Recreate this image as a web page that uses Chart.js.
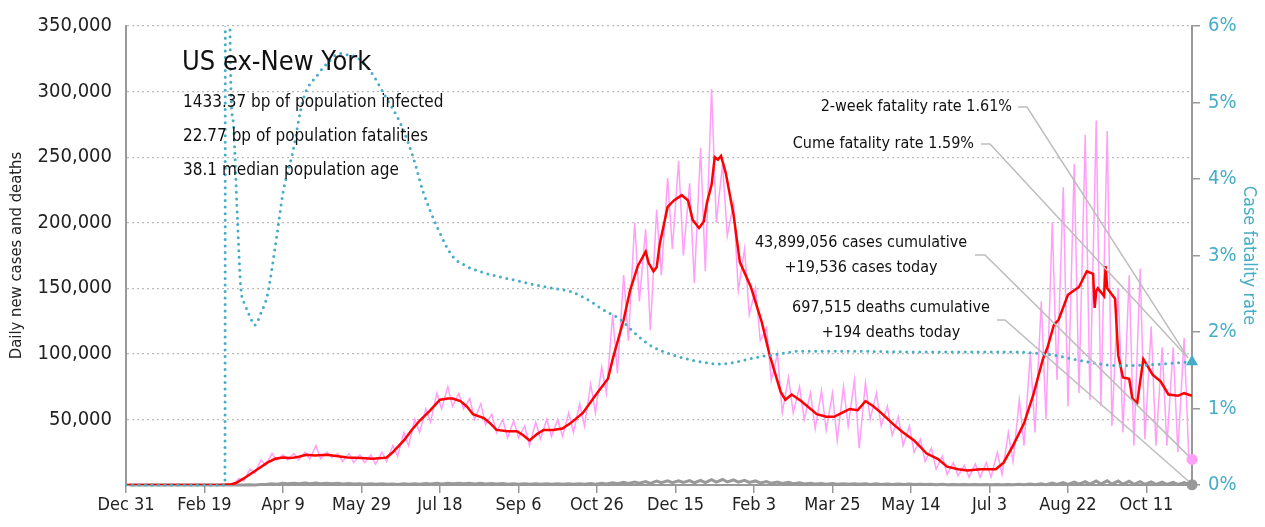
<!DOCTYPE html>
<html>
<head>
<meta charset="utf-8">
<script src="https://cdn.jsdelivr.net/npm/chart.js@4.4.1/dist/chart.umd.min.js"></script>
<style>
  html, body { margin: 0; padding: 0; background: #fff; }
  #wrap { width: 1265px; height: 527px; }
</style>
</head>
<body>
<div id="wrap"><canvas id="chart"></canvas></div>
<script>
// day 0 = Dec 31, 2019
const xTickDays = [0, 50, 100, 150, 200, 250, 300, 350, 400, 450, 500, 550, 600, 650];
const yTicks = [0, 50000, 100000, 150000, 200000, 250000, 300000, 350000];
const rateTicks = [0, 1, 2, 3, 4, 5, 6];

// 7-day average of new cases (thousands)
const redDays = [0, 60, 66, 70, 75, 80, 85, 90, 95, 100, 105, 110, 115, 120, 128, 135, 141, 150, 157, 163, 166, 170, 177, 182, 187, 193, 200, 205, 208, 213, 217, 221, 228, 232, 236, 243, 249, 253, 257, 262, 266, 272, 278, 283, 291, 300, 307, 310, 317, 321, 326, 331, 333, 336, 338, 340, 345, 349, 354, 358, 361, 365, 368, 370, 373, 375, 377, 379, 382, 387, 391, 398, 405, 410, 417, 420, 424, 430, 440, 446, 451, 456, 461, 466, 471, 476, 481, 489, 495, 502, 510, 517, 523, 530, 536, 544, 554, 559, 565, 572, 578, 584, 587, 591, 594, 600, 607, 612, 616, 617, 618, 619, 623, 624, 625, 630, 632, 635, 639, 641, 644, 648, 651, 654, 659, 664, 670, 674, 679];
const redCases = [0, 0, 0.3, 1.5, 5, 9, 13, 17, 20, 21, 20.5, 21.5, 23, 22.5, 23, 22, 21, 20.5, 20, 20.5, 21, 25, 34, 42, 49, 56, 65, 66, 66, 64, 60, 54, 51, 47, 42, 41, 41, 38, 34, 39, 42, 42, 43, 47, 55, 70, 81, 96, 126, 148, 167, 178, 169, 163, 166, 184, 212, 217, 221, 217, 202, 196, 201, 215, 229, 250, 248, 251, 238, 206, 170, 151, 124, 99, 71, 65, 69, 64, 54, 52, 52, 55, 58, 57, 64, 60, 55, 46, 40, 34, 24, 20, 14, 12, 11, 12, 12, 17, 30, 47, 69, 96, 105, 122, 126, 145, 151, 163, 161, 135, 148, 150, 144, 167, 150, 142, 99, 82, 81, 66, 62, 96, 90, 84, 79, 69, 68, 70, 68];

// daily new cases, weekly high and low (thousands), week w starts at day 7*w
const pinkHi = [0, 0, 0, 0, 0, 0, 0, 0, 0, 0.5, 5, 12, 19, 24, 23, 24, 25, 30, 25, 24, 24, 23, 23, 25, 30, 40, 50, 58, 70, 75, 70, 66, 62, 54, 50, 49, 45, 48, 50, 50, 55, 62, 77, 90, 130, 160, 200, 195, 210, 234, 247, 230, 257, 302, 245, 215, 180, 150, 120, 100, 82, 75, 70, 72, 70, 75, 80, 78, 70, 60, 52, 45, 35, 28, 22, 17, 15, 16, 17, 25, 40, 65, 100, 140, 200, 227, 245, 267, 278, 270, 150, 160, 165, 121, 105, 105, 112];
const pinkLo = [0, 0, 0, 0, 0, 0, 0, 0, 0, 0.2, 3, 9, 15, 19, 19, 19, 20, 20, 21, 18, 17, 17, 16, 18, 22, 30, 40, 48, 58, 60, 58, 50, 46, 40, 36, 36, 30, 35, 37, 37, 40, 45, 55, 70, 85, 110, 140, 118, 160, 180, 175, 154, 163, 200, 190, 148, 130, 110, 80, 55, 55, 50, 43, 42, 34, 45, 28, 50, 45, 38, 30, 25, 18, 12, 8, 7, 6, 6, 6, 8, 18, 30, 40, 50, 80, 60, 70, 65, 60, 45, 40, 30, 35, 30, 30, 25, 20];
const casesToday = 19.536;

// daily deaths, weekly high and low (thousands)
const deathHi = [0, 0, 0, 0, 0, 0, 0, 0, 0, 0, 0, 0.1, 0.4, 0.9, 1.3, 1.4, 1.5, 1.5, 1.4, 1.3, 1.2, 1.0, 1.0, 0.9, 0.8, 0.9, 1.0, 1.2, 1.3, 1.4, 1.4, 1.3, 1.3, 1.1, 1.1, 1.0, 0.9, 0.9, 0.9, 0.9, 0.9, 1.0, 1.1, 1.3, 1.6, 2.0, 2.3, 2.6, 3.0, 3.2, 3.2, 3.3, 3.5, 4.1, 4.2, 3.9, 3.6, 3.1, 2.6, 2.2, 2.0, 1.7, 1.4, 1.2, 1.1, 1.0, 1.0, 0.9, 0.9, 0.8, 0.8, 0.7, 0.6, 0.5, 0.5, 0.4, 0.4, 0.4, 0.3, 0.3, 0.4, 0.5, 0.7, 1.0, 1.4, 1.8, 2.2, 2.6, 3.0, 3.2, 3.0, 2.8, 2.6, 2.4, 2.2, 2.0, 1.9];
const deathLo = [0, 0, 0, 0, 0, 0, 0, 0, 0, 0, 0, 0.05, 0.3, 0.6, 0.9, 1.0, 1.0, 1.0, 0.9, 0.8, 0.7, 0.6, 0.5, 0.5, 0.4, 0.5, 0.6, 0.7, 0.8, 0.9, 0.9, 0.8, 0.8, 0.7, 0.6, 0.6, 0.5, 0.5, 0.5, 0.5, 0.5, 0.6, 0.6, 0.7, 0.9, 1.1, 1.3, 1.3, 1.7, 1.8, 1.9, 1.7, 1.8, 2.2, 2.3, 2.2, 2.0, 1.6, 1.3, 1.1, 1.0, 0.8, 0.7, 0.6, 0.5, 0.5, 0.5, 0.4, 0.4, 0.4, 0.3, 0.3, 0.3, 0.2, 0.2, 0.15, 0.15, 0.1, 0.1, 0.1, 0.1, 0.15, 0.2, 0.3, 0.4, 0.5, 0.6, 0.6, 0.7, 0.6, 0.6, 0.5, 0.5, 0.5, 0.5, 0.4, 0.4];
const deathsToday = 0.194;

// case fatality rate (%)
const cfrDays = [0, 63, 64, 65, 66, 68, 71, 73, 76, 79, 82, 86, 90, 96, 100, 106, 113, 122, 130, 136, 142, 147, 156, 166, 175, 183, 189, 198, 208, 216, 224, 249, 272, 283, 296, 304, 315, 326, 336, 347, 359, 379, 389, 402, 415, 430, 460, 500, 540, 560, 575, 590, 600, 615, 632, 650, 679];
const cfrRates = [0, 0, 40, 40, 6.5, 4.8, 3.47, 2.61, 2.35, 2.2, 2.09, 2.25, 2.48, 3.25, 3.82, 4.33, 5.05, 5.36, 5.55, 5.64, 5.62, 5.59, 5.4, 5.05, 4.72, 4.28, 3.85, 3.38, 2.99, 2.87, 2.80, 2.67, 2.57, 2.53, 2.40, 2.29, 2.16, 1.95, 1.80, 1.71, 1.64, 1.58, 1.61, 1.67, 1.71, 1.75, 1.75, 1.74, 1.74, 1.74, 1.73, 1.70, 1.66, 1.60, 1.56, 1.57, 1.61];

const lastDay = 679;
const FONT = "'Liberation Sans Narrow', 'DejaVu Sans Condensed', 'Arial Narrow', sans-serif";
const TEAL = '#47adc6';
const PINK = '#ff9ff8';
const GREY = '#999999';
const months = ['Jan', 'Feb', 'Mar', 'Apr', 'May', 'Jun', 'Jul', 'Aug', 'Sep', 'Oct', 'Nov', 'Dec'];

function weekly(hi, lo, today) {
  const pts = [];
  hi.forEach((h, w) => {
    pts.push({ x: 7 * w + 2, y: h * 1000 });
    pts.push({ x: 7 * w + 5, y: lo[w] * 1000 });
  });
  pts.push({ x: lastDay, y: today * 1000 });
  return pts;
}

const pinkData = weekly(pinkHi, pinkLo, casesToday);
const deathData = weekly(deathHi, deathLo, deathsToday);
const redData = redDays.map((d, i) => ({ x: d, y: redCases[i] * 1000 }));
const cfrData = cfrDays.map((d, i) => ({ x: d, y: cfrRates[i] }));

const lastOnly = (r) => (ctx) => ctx.dataIndex === ctx.dataset.data.length - 1 ? r : 0;

const notes = {
  id: 'notes',
  afterDatasetsDraw(chart) {
    const { ctx, scales } = chart;
    const ex = scales.x.getPixelForValue(lastDay);
    const triY = scales.y2.getPixelForValue(cfrRates[cfrRates.length - 1]);
    const pinkY = scales.y.getPixelForValue(casesToday * 1000);
    const greyY = scales.y.getPixelForValue(deathsToday * 1000);
    ctx.save();
    ctx.fillStyle = '#111';
    ctx.textBaseline = 'middle';
    ctx.textAlign = 'left';
    ctx.font = '27px ' + FONT;
    ctx.fillText('US ex-New York', 182, 63);
    ctx.font = '17px ' + FONT;
    ctx.fillText('1433.37 bp of population infected', 183, 103);
    ctx.fillText('22.77 bp of population fatalities', 183, 137);
    ctx.fillText('38.1 median population age', 183, 171);

    ctx.font = '16px ' + FONT;
    ctx.textAlign = 'right';
    ctx.fillText('2-week fatality rate 1.61%', 1012, 107);
    ctx.fillText('Cume fatality rate 1.59%', 974, 144);
    ctx.textAlign = 'center';
    ctx.fillText('43,899,056 cases cumulative', 861, 243);
    ctx.fillText('+19,536 cases today', 861, 268);
    ctx.fillText('697,515 deaths cumulative', 891, 308);
    ctx.fillText('+194 deaths today', 891, 333);

    ctx.strokeStyle = '#bdbdbd';
    ctx.lineWidth = 1.5;
    const leader = (x0, x1, y, tx, ty) => {
      ctx.beginPath();
      ctx.moveTo(x0, y);
      ctx.lineTo(x1, y);
      ctx.lineTo(tx - 4, ty - 4);
      ctx.stroke();
    };
    leader(1018, 1027, 107, ex, triY);
    leader(981, 990, 144, ex, triY);
    leader(975, 985, 255, ex, pinkY);
    leader(997, 1005, 320, ex, greyY);
    ctx.restore();
  }
};

new Chart(document.getElementById('chart'), {
  type: 'line',
  data: {
    datasets: [
      {
        label: 'Case fatality rate',
        data: cfrData,
        yAxisID: 'y2',
        borderColor: TEAL,
        backgroundColor: TEAL,
        borderWidth: 3,
        borderDash: [0, 6.5],
        borderCapStyle: 'round',
        cubicInterpolationMode: 'monotone',
        pointStyle: 'triangle',
        pointRadius: lastOnly(7),
        pointBorderWidth: 0,
        clip: { left: 0, top: 0, right: 12, bottom: 12 }
      },
      {
        label: 'Cases 7-day average',
        data: redData,
        yAxisID: 'y',
        borderColor: '#ff0000',
        borderWidth: 2.5,
        pointRadius: 0,
        tension: 0
      },
      {
        label: 'Deaths',
        data: deathData,
        yAxisID: 'y',
        borderColor: GREY,
        backgroundColor: GREY,
        borderWidth: 3,
        pointRadius: lastOnly(5.5),
        pointBorderWidth: 0,
        clip: { left: 0, top: 0, right: 12, bottom: 12 }
      },
      {
        label: 'Cases',
        data: pinkData,
        yAxisID: 'y',
        borderColor: PINK,
        backgroundColor: PINK,
        borderWidth: 1.5,
        pointRadius: lastOnly(5.5),
        pointBorderWidth: 0,
        clip: { left: 0, top: 0, right: 12, bottom: 12 }
      }
    ]
  },
  options: {
    responsive: true,
    maintainAspectRatio: false,
    animation: false,
    layout: { padding: { top: 18, left: 0, right: 0, bottom: 0 } },
    plugins: { legend: { display: false }, tooltip: { enabled: false } },
    scales: {
      x: {
        type: 'linear',
        min: 0,
        max: lastDay,
        afterBuildTicks: (s) => { s.ticks = xTickDays.map(v => ({ value: v })); },
        afterFit: (s) => { s.height = 42; },
        ticks: {
          autoSkip: false,
          maxRotation: 0,
          color: '#222',
          padding: 2,
          font: { family: FONT, size: 18 },
          callback: (v) => {
            const d = new Date(2019, 11, 31 + v);
            return months[d.getMonth()] + ' ' + d.getDate();
          }
        },
        grid: { drawOnChartArea: false, color: GREY, tickLength: 8, lineWidth: 1.5 },
        border: { color: GREY, width: 2 }
      },
      y: {
        position: 'left',
        min: 0,
        max: 350000,
        afterBuildTicks: (s) => { s.ticks = yTicks.map(v => ({ value: v })); },
        afterFit: (s) => { s.width = 126; },
        ticks: {
          color: '#222',
          padding: 14,
          font: { family: FONT, size: 20 },
          callback: (v) => v === 0 ? '' : v.toLocaleString('en-US')
        },
        grid: { color: '#bbbbbb', lineWidth: 1.2, drawTicks: false },
        border: { color: GREY, width: 2, dash: [2, 3] },
        title: {
          display: true,
          text: 'Daily new cases and deaths',
          color: '#222',
          padding: { top: 7, bottom: 0 },
          font: { family: FONT, size: 16.5 }
        }
      },
      y2: {
        position: 'right',
        min: 0,
        max: 6,
        afterBuildTicks: (s) => { s.ticks = rateTicks.map(v => ({ value: v })); },
        afterFit: (s) => { s.width = 73; },
        ticks: {
          color: TEAL,
          padding: 8,
          font: { family: FONT, size: 20 },
          callback: (v) => v + '%'
        },
        grid: { drawOnChartArea: false, color: GREY, tickLength: 8, lineWidth: 1.5 },
        border: { color: GREY, width: 2 },
        title: {
          display: true,
          text: 'Case fatality rate',
          color: TEAL,
          padding: { top: 6, bottom: 0 },
          font: { family: FONT, size: 18 }
        }
      }
    }
  },
  plugins: [notes]
});
</script>
</body>
</html>
